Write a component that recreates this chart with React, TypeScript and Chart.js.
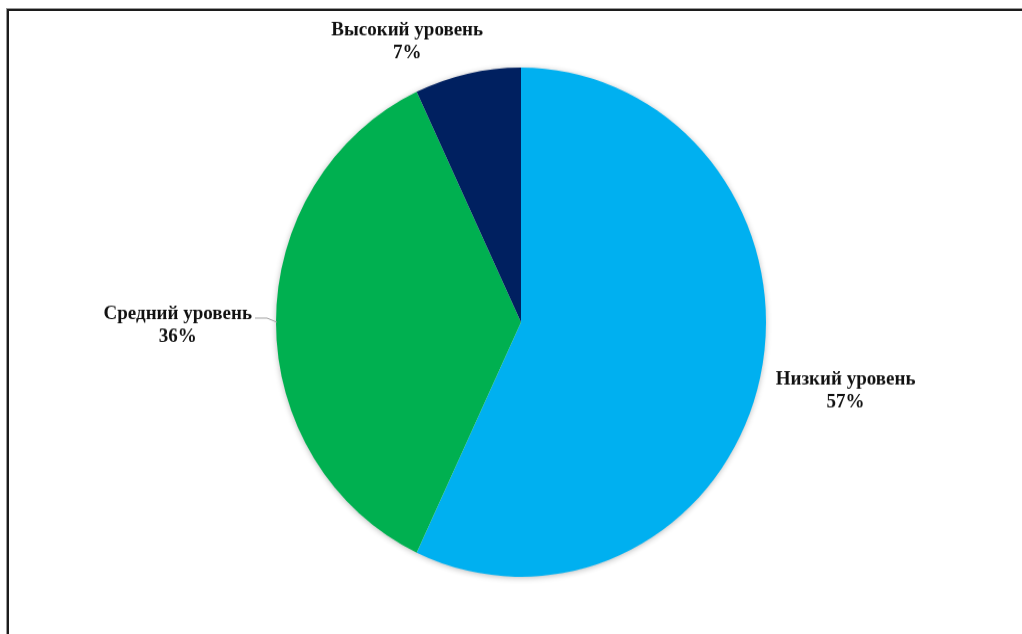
import React, { useEffect, useRef } from "react";
import { Chart, registerables } from "chart.js";

Chart.register(...registerables);

const categories = ["Низкий уровень", "Средний уровень", "Высокий уровень"];
const shares = [57, 36, 7];
const sliceColors = ["#00B0F0", "#00B050", "#002060"];

const W = 1022;
const H_DRAW = 610;
const H_SHOW = 634;
const FONT = 'bold 19px "Liberation Serif", "Times New Roman", serif';

const shadowPlugin = {
  id: "pieShadow",
  beforeDatasetsDraw(chart: any) {
    const arc = chart.getDatasetMeta(0).data[0];
    if (!arc) return;
    const { x, y, outerRadius } = arc.getProps(["x", "y", "outerRadius"], true);
    const ctx = chart.ctx;
    ctx.save();
    ctx.shadowColor = "rgba(0,0,0,0.3)";
    ctx.shadowBlur = 6;
    ctx.shadowOffsetY = 1;
    ctx.fillStyle = "#fff";
    ctx.beginPath();
    ctx.arc(x, y, outerRadius - 0.5, 0, Math.PI * 2);
    ctx.fill();
    ctx.restore();
  },
};

const labelPlugin = {
  id: "pieLabels",
  afterDraw(chart: any) {
    const ctx = chart.ctx;
    const meta = chart.getDatasetMeta(0);
    const lineH = 22;
    ctx.save();
    ctx.font = FONT;
    ctx.fillStyle = "#111";
    ctx.textBaseline = "middle";
    ctx.textAlign = "center";
    meta.data.forEach((arc: any, i: number) => {
      const { x, y, outerRadius, startAngle, endAngle } = arc.getProps(
        ["x", "y", "outerRadius", "startAngle", "endAngle"],
        true
      );
      const mid = (startAngle + endAngle) / 2;
      const cos = Math.cos(mid);
      const sin = Math.sin(mid);
      const text1 = categories[i];
      const text2 = shares[i] + "%";
      const w = ctx.measureText(text1).width;
      let lx: number, ly: number;
      if (Math.abs(sin) > 0.9) {
        lx = x + cos * (outerRadius + 20) - 56;
        ly = y + sin * (outerRadius + 20) - 11;
      } else if (cos < 0) {
        const rightEdge = x + cos * (outerRadius + 24);
        lx = rightEdge - w / 2;
        ly = y + sin * outerRadius + 3;
        ctx.strokeStyle = "#a0a0a0";
        ctx.lineWidth = 1;
        ctx.beginPath();
        ctx.moveTo(rightEdge + 3, ly - 7);
        ctx.lineTo(rightEdge + 15, ly - 7);
        ctx.lineTo(x + cos * outerRadius + 1, y);
        ctx.stroke();
      } else {
        const leftEdge = x + cos * (outerRadius + 16);
        lx = leftEdge + w / 2;
        ly = y + sin * outerRadius + 13;
      }
      ctx.fillText(text1, lx, ly - lineH / 2);
      ctx.fillText(text2, lx, ly + lineH / 2);
    });
    ctx.restore();
  },
};

export default function App() {
  const ref = useRef<HTMLCanvasElement | null>(null);
  useEffect(() => {
    if (!ref.current) return;
    const chart = new Chart(ref.current, {
      type: "pie",
      data: {
        labels: categories,
        datasets: [
          {
            data: shares,
            backgroundColor: sliceColors,
            borderWidth: 0,
          },
        ],
      },
      options: {
        animation: false,
        responsive: false,
        layout: { padding: { left: 20, right: 0, top: 65, bottom: 55 } },
        plugins: {
          legend: { display: false },
          tooltip: { enabled: false },
        },
      },
      plugins: [shadowPlugin, labelPlugin],
    });
    return () => chart.destroy();
  }, []);
  return (
    <div style={{ position: "fixed", left: 0, top: 0, width: W, height: H_SHOW, background: "#fff" }}>
      <canvas
        ref={ref}
        width={W}
        height={H_DRAW}
        style={{ position: "absolute", left: 0, top: 0, width: W, height: H_SHOW }}
      />
      <div
        style={{
          position: "absolute",
          left: 7,
          top: 9,
          width: 1060,
          height: 700,
          border: "2px solid #1c1c1c",
          boxShadow: "0 0 0 1px #9a9a9a",
          boxSizing: "border-box",
          pointerEvents: "none",
        }}
      />
    </div>
  );
}
